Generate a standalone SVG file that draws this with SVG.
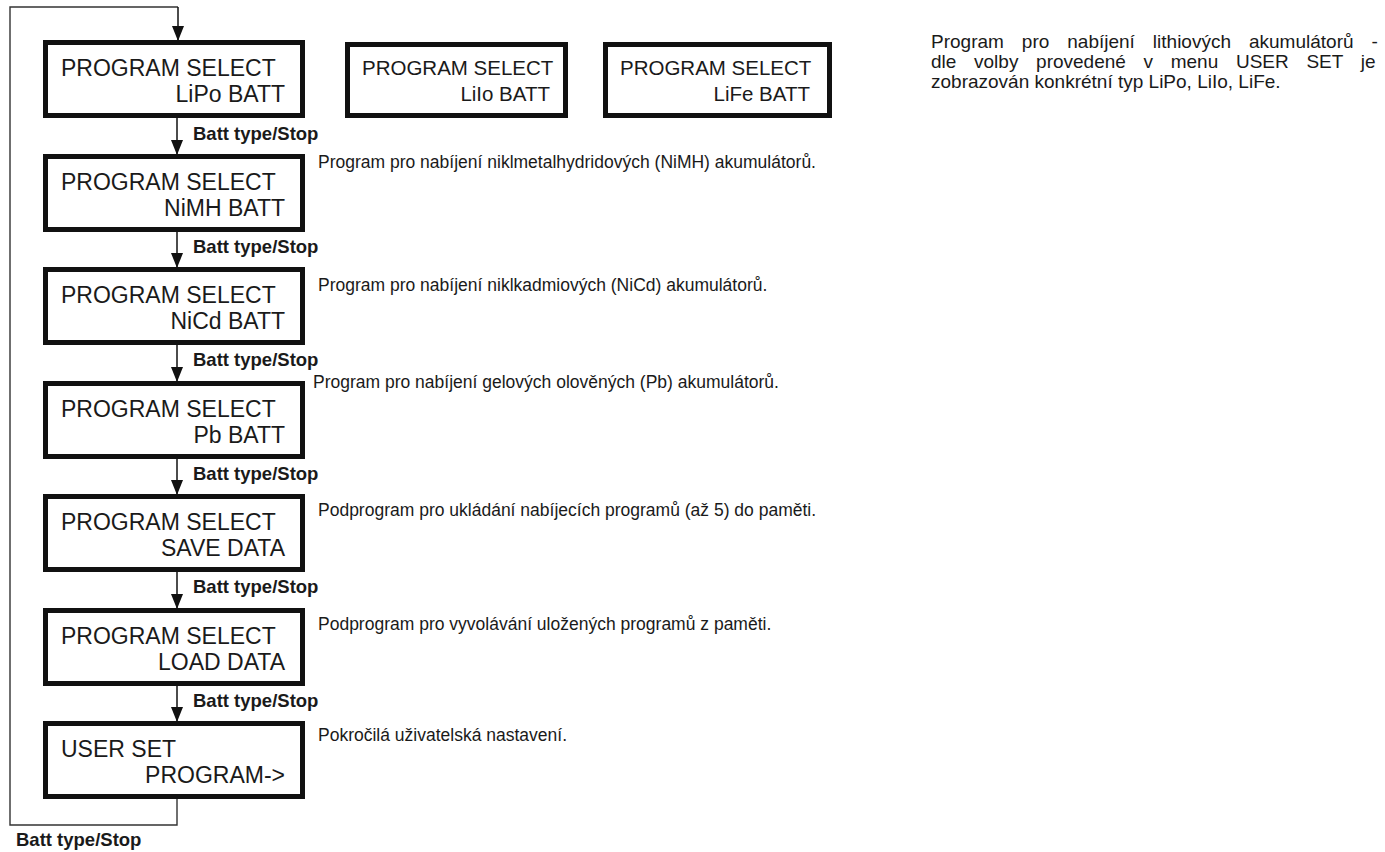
<svg xmlns="http://www.w3.org/2000/svg" width="1385" height="852" viewBox="0 0 1385 852">
<defs>
<marker id="arr" markerUnits="userSpaceOnUse" viewBox="0 -6 15 12" refX="15" refY="0" markerWidth="15" markerHeight="12" orient="auto">
<path d="M0,-6 L15,0 L0,6 z" fill="#111"/>
</marker>
</defs>
<style>
.box{fill:#fff;stroke:#111;stroke-width:5}
.bt{font-family:"Liberation Sans",Arial,sans-serif;font-size:23px;fill:#1a1a1a}
.sbt{font-family:"Liberation Sans",Arial,sans-serif;font-size:20.5px;fill:#1a1a1a}
.lbl{font-family:"Liberation Sans",Arial,sans-serif;font-size:18.5px;font-weight:bold;fill:#1a1a1a}
.desc{font-family:"Liberation Sans",Arial,sans-serif;font-size:17.5px;fill:#1a1a1a}
.par{font-family:"Liberation Sans",Arial,sans-serif;font-size:19px;fill:#1a1a1a}
.con{fill:none;stroke:#111;stroke-width:1.5}
.loop{fill:none;stroke:#333;stroke-width:1.4}
</style>
<rect width="1385" height="852" fill="#fff"/>
<g id="connectors">
<polyline class="loop" points="177,799 177,825 10,825 10,7 178,7"/>
<line class="con" x1="178" y1="7" x2="178" y2="41" marker-end="url(#arr)"/>
<line class="con" x1="177" y1="118" x2="177" y2="155" marker-end="url(#arr)"/>
<line class="con" x1="177" y1="232" x2="177" y2="268" marker-end="url(#arr)"/>
<line class="con" x1="177" y1="345" x2="177" y2="382" marker-end="url(#arr)"/>
<line class="con" x1="177" y1="459" x2="177" y2="495" marker-end="url(#arr)"/>
<line class="con" x1="177" y1="572" x2="177" y2="609" marker-end="url(#arr)"/>
<line class="con" x1="177" y1="686" x2="177" y2="722" marker-end="url(#arr)"/>
<text class="lbl" x="193" y="140">Batt type/Stop</text>
<text class="lbl" x="193" y="253">Batt type/Stop</text>
<text class="lbl" x="193" y="366">Batt type/Stop</text>
<text class="lbl" x="193" y="480">Batt type/Stop</text>
<text class="lbl" x="193" y="593">Batt type/Stop</text>
<text class="lbl" x="193" y="707">Batt type/Stop</text>
<text class="lbl" x="16" y="846">Batt type/Stop</text>
</g>
<g id="lipo">
<rect class="box" x="45.5" y="42.5" width="257" height="73"/>
<text class="bt" x="61" y="76">PROGRAM SELECT</text>
<text class="bt" x="285" y="102" text-anchor="end">LiPo BATT</text>
</g>
<g id="liio">
<rect class="box" x="347.5" y="44.5" width="218" height="71"/>
<text class="sbt" x="362" y="75">PROGRAM SELECT</text>
<text class="sbt" x="550" y="101" text-anchor="end">LiIo BATT</text>
</g>
<g id="life">
<rect class="box" x="605.5" y="44.5" width="224" height="71"/>
<text class="sbt" x="620" y="75">PROGRAM SELECT</text>
<text class="sbt" x="810" y="101" text-anchor="end">LiFe BATT</text>
</g>
<g id="nimh">
<rect class="box" x="45.5" y="156.5" width="257" height="73"/>
<text class="bt" x="61" y="190">PROGRAM SELECT</text>
<text class="bt" x="285" y="216" text-anchor="end">NiMH BATT</text>
</g>
<g id="nicd">
<rect class="box" x="45.5" y="269.5" width="257" height="73"/>
<text class="bt" x="61" y="303">PROGRAM SELECT</text>
<text class="bt" x="285" y="329" text-anchor="end">NiCd BATT</text>
</g>
<g id="pb">
<rect class="box" x="45.5" y="383.5" width="257" height="73"/>
<text class="bt" x="61" y="417">PROGRAM SELECT</text>
<text class="bt" x="285" y="443" text-anchor="end">Pb BATT</text>
</g>
<g id="save">
<rect class="box" x="45.5" y="496.5" width="257" height="73"/>
<text class="bt" x="61" y="530">PROGRAM SELECT</text>
<text class="bt" x="285" y="556" text-anchor="end">SAVE DATA</text>
</g>
<g id="load">
<rect class="box" x="45.5" y="610.5" width="257" height="73"/>
<text class="bt" x="61" y="644">PROGRAM SELECT</text>
<text class="bt" x="285" y="670" text-anchor="end">LOAD DATA</text>
</g>
<g id="userset">
<rect class="box" x="45.5" y="723.5" width="257" height="73"/>
<text class="bt" x="61" y="757">USER SET</text>
<text class="bt" x="285" y="783" text-anchor="end">PROGRAM-&gt;</text>
</g>
<g id="descriptions">
<text class="par" x="931" y="48" word-spacing="12.7">Program pro nabíjení lithiových akumulátorů -</text>
<text class="par" x="931" y="68" word-spacing="12.4">dle volby provedené v menu USER SET je</text>
<text class="par" x="931" y="88">zobrazován konkrétní typ LiPo, LiIo, LiFe.</text>
<text class="desc" x="318" y="168">Program pro nabíjení niklmetalhydridových (NiMH) akumulátorů.</text>
<text class="desc" x="318" y="291">Program pro nabíjení niklkadmiových (NiCd) akumulátorů.</text>
<text class="desc" x="313" y="388">Program pro nabíjení gelových olověných (Pb) akumulátorů.</text>
<text class="desc" x="318" y="516">Podprogram pro ukládání nabíjecích programů (až 5) do paměti.</text>
<text class="desc" x="318" y="630">Podprogram pro vyvolávání uložených programů z paměti.</text>
<text class="desc" x="318" y="741">Pokročilá uživatelská nastavení.</text>
</g>
</svg>
